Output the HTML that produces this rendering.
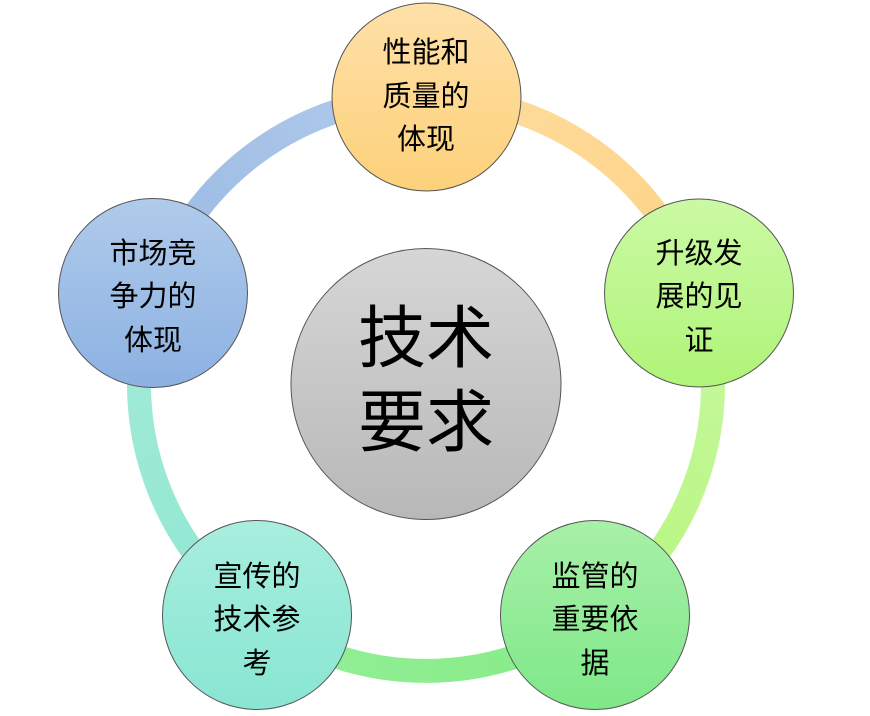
<!DOCTYPE html>
<html><head><meta charset="utf-8"><style>
html,body{margin:0;padding:0;background:#fff;}
svg{display:block;}
text{font-family:"Liberation Sans","Noto Sans CJK SC",sans-serif;fill:#000;text-anchor:middle;}
</style></head><body>
<svg width="870" height="716" viewBox="0 0 870 716" xmlns="http://www.w3.org/2000/svg">
<defs>
<linearGradient id="a1" gradientUnits="userSpaceOnUse" x1="426" y1="97" x2="699" y2="293"><stop offset="0" stop-color="#fedc9e"/><stop offset="1" stop-color="#fdd488"/></linearGradient>
<linearGradient id="a2" gradientUnits="userSpaceOnUse" x1="699" y1="293" x2="595" y2="615"><stop offset="0" stop-color="#c6f89e"/><stop offset="1" stop-color="#b8f680"/></linearGradient>
<linearGradient id="a3" gradientUnits="userSpaceOnUse" x1="595" y1="615" x2="257" y2="615"><stop offset="0" stop-color="#86ec86"/><stop offset="1" stop-color="#94ee98"/></linearGradient>
<linearGradient id="a4" gradientUnits="userSpaceOnUse" x1="257" y1="615" x2="153" y2="293"><stop offset="0" stop-color="#90e8d2"/><stop offset="1" stop-color="#a4ead8"/></linearGradient>
<linearGradient id="a5" gradientUnits="userSpaceOnUse" x1="153" y1="293" x2="426" y2="97"><stop offset="0" stop-color="#9bb9e4"/><stop offset="1" stop-color="#b0cbea"/></linearGradient>
<linearGradient id="gT" x1="0" y1="0" x2="0" y2="1"><stop offset="0" stop-color="#fee0a8"/><stop offset="1" stop-color="#fdd17a"/></linearGradient>
<linearGradient id="gR" x1="0" y1="0" x2="0" y2="1"><stop offset="0" stop-color="#cbf9a4"/><stop offset="1" stop-color="#aff478"/></linearGradient>
<linearGradient id="gBR" x1="0" y1="0" x2="0" y2="1"><stop offset="0" stop-color="#a8f0a8"/><stop offset="1" stop-color="#7ee888"/></linearGradient>
<linearGradient id="gBL" x1="0" y1="0" x2="0" y2="1"><stop offset="0" stop-color="#a8eede"/><stop offset="1" stop-color="#88e6d2"/></linearGradient>
<linearGradient id="gL" x1="0" y1="0" x2="0" y2="1"><stop offset="0" stop-color="#b0cbeb"/><stop offset="1" stop-color="#8cb1e2"/></linearGradient>
<linearGradient id="gC" x1="0" y1="0" x2="0" y2="1"><stop offset="0" stop-color="#d6d6d6"/><stop offset="1" stop-color="#b8b8b8"/></linearGradient>
</defs>
<g fill="none" stroke-width="24">
<path d="M426 97 A287 287 0 0 1 698.4 293.5" stroke="url(#a1)"/>
<path d="M698.4 293.5 A287 287 0 0 1 595.4 615.6" stroke="url(#a2)"/>
<path d="M595.4 615.6 A287 287 0 0 1 256.6 615.6" stroke="url(#a3)"/>
<path d="M256.6 615.6 A287 287 0 0 1 153.6 293.5" stroke="url(#a4)"/>
<path d="M153.6 293.5 A287 287 0 0 1 426 97" stroke="url(#a5)"/>
</g>
<g stroke="#555" stroke-width="1">
<ellipse cx="426.5" cy="97" rx="94.5" ry="94" fill="url(#gT)"/>
<ellipse cx="699" cy="293" rx="94.5" ry="94" fill="url(#gR)"/>
<ellipse cx="595" cy="615" rx="94.5" ry="94.5" fill="url(#gBR)"/>
<ellipse cx="257" cy="615" rx="94.5" ry="94.5" fill="url(#gBL)"/>
<ellipse cx="153" cy="293" rx="94.5" ry="94.5" fill="url(#gL)"/>
<ellipse cx="426" cy="384" rx="135" ry="135.5" fill="url(#gC)"/>
</g>
<g font-size="29">
<text x="426" y="62">性能和</text><text x="426" y="106">质量的</text><text x="426" y="149">体现</text>
<text x="699" y="263">升级发</text><text x="699" y="306">展的见</text><text x="699" y="350">证</text>
<text x="595" y="586">监管的</text><text x="595" y="629">重要依</text><text x="595" y="673">据</text>
<text x="257" y="586">宣传的</text><text x="257" y="629">技术参</text><text x="257" y="673">考</text>
<text x="153" y="263">市场竞</text><text x="153" y="306">争力的</text><text x="153" y="350">体现</text>
</g>
<g font-size="68">
<text x="426" y="362">技术</text><text x="426" y="446">要求</text>
</g>
</svg>
</body></html>
